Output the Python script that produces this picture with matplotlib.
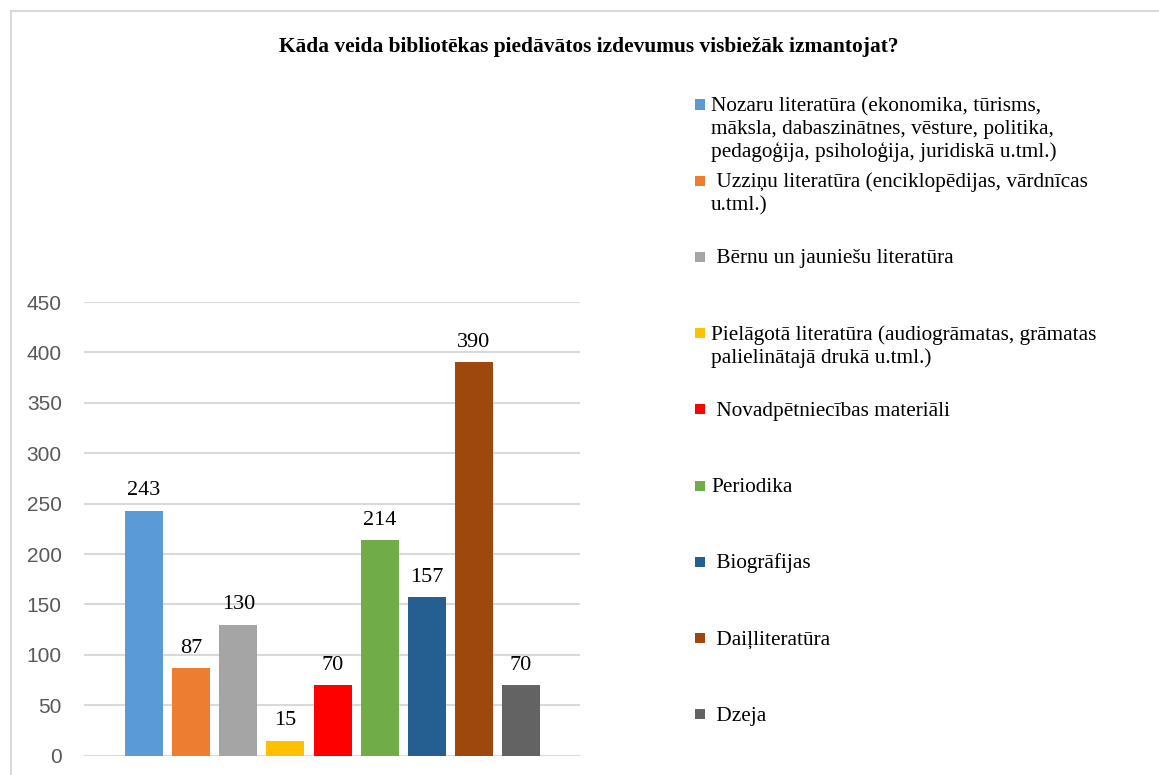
import matplotlib
matplotlib.use('Agg')
import matplotlib.pyplot as plt
from matplotlib.patches import Rectangle
from matplotlib.lines import Line2D

title = "Kāda veida bibliotēkas piedāvātos izdevumus visbiežāk izmantojat?"
categories = [
    "Nozaru literatūra (ekonomika, tūrisms,\nmāksla, dabaszinātnes, vēsture, politika,\npedagoģija, psiholoģija, juridiskā u.tml.)",
    " Uzziņu literatūra (enciklopēdijas, vārdnīcas\nu.tml.)",
    " Bērnu un jauniešu literatūra",
    "Pielāgotā literatūra (audiogrāmatas, grāmatas\npalielinātajā drukā u.tml.)",
    " Novadpētniecības materiāli",
    "Periodika",
    " Biogrāfijas",
    " Daiļliteratūra",
    " Dzeja",
]
values = [243, 87, 130, 15, 70, 214, 157, 390, 70]
colors = ["#5B9BD5", "#ED7D31", "#A5A5A5", "#FFC000", "#FF0000",
          "#70AD47", "#255E91", "#9E480E", "#636363"]
yticks = [0, 50, 100, 150, 200, 250, 300, 350, 400, 450]

W, H = 1159, 775
fig = plt.figure(figsize=(W / 100, H / 100), dpi=100)

def fx(px):
    return px / W

def fy(py):
    return 1 - py / H

# outer chart border (light gray)
fig.add_artist(Line2D([fx(11), fx(11)], [fy(11), -0.05], color="#D9D9D9", lw=1.5))
fig.add_artist(Line2D([fx(11), 1.05], [fy(11), fy(11)], color="#D9D9D9", lw=1.5))

ax = fig.add_axes([fx(84), fy(755.7), (580 - 84) / W, (755.7 - 302) / H])
xs = list(range(len(values)))
bars = ax.bar(xs, values, width=0.806, color=colors, zorder=3)
ax.set_xlim(-1.273, 9.25)
ax.set_ylim(0, 450)
ax.set_yticks(yticks)
ax.set_xticks([])
ax.yaxis.grid(True, color="#D9D9D9", linewidth=1.5)
ax.set_axisbelow(True)
for s in ax.spines.values():
    s.set_visible(False)
ax.tick_params(axis="y", length=0, pad=16, labelsize=15, labelcolor="#595959")
for lbl in ax.get_yticklabels():
    lbl.set_fontfamily("Liberation Sans")

ax.bar_label(bars, labels=[str(v) for v in values], padding=7.5,
             fontsize=16, fontfamily="Liberation Serif", color="#000000")

fig.text(fx(589), fy(51.7), title, ha="center", va="baseline", fontsize=15.4,
         fontweight="bold", fontfamily="Liberation Serif", color="#000000")

# legend
y0 = 104.5
step = 76.2
line_h = 23
for i, (cat, col) in enumerate(zip(categories, colors)):
    yc = y0 + step * i
    fig.add_artist(Rectangle((fx(695), fy(yc + 5)), 10 / W, 10 / H,
                             facecolor=col, edgecolor="none"))
    for k, line in enumerate(cat.split("\n")):
        fig.text(fx(711), fy(yc + 6.5 + line_h * k), line, ha="left",
                 va="baseline", fontsize=15.3, fontfamily="Liberation Serif",
                 color="#000000")

fig.savefig("out.png", dpi=100)
